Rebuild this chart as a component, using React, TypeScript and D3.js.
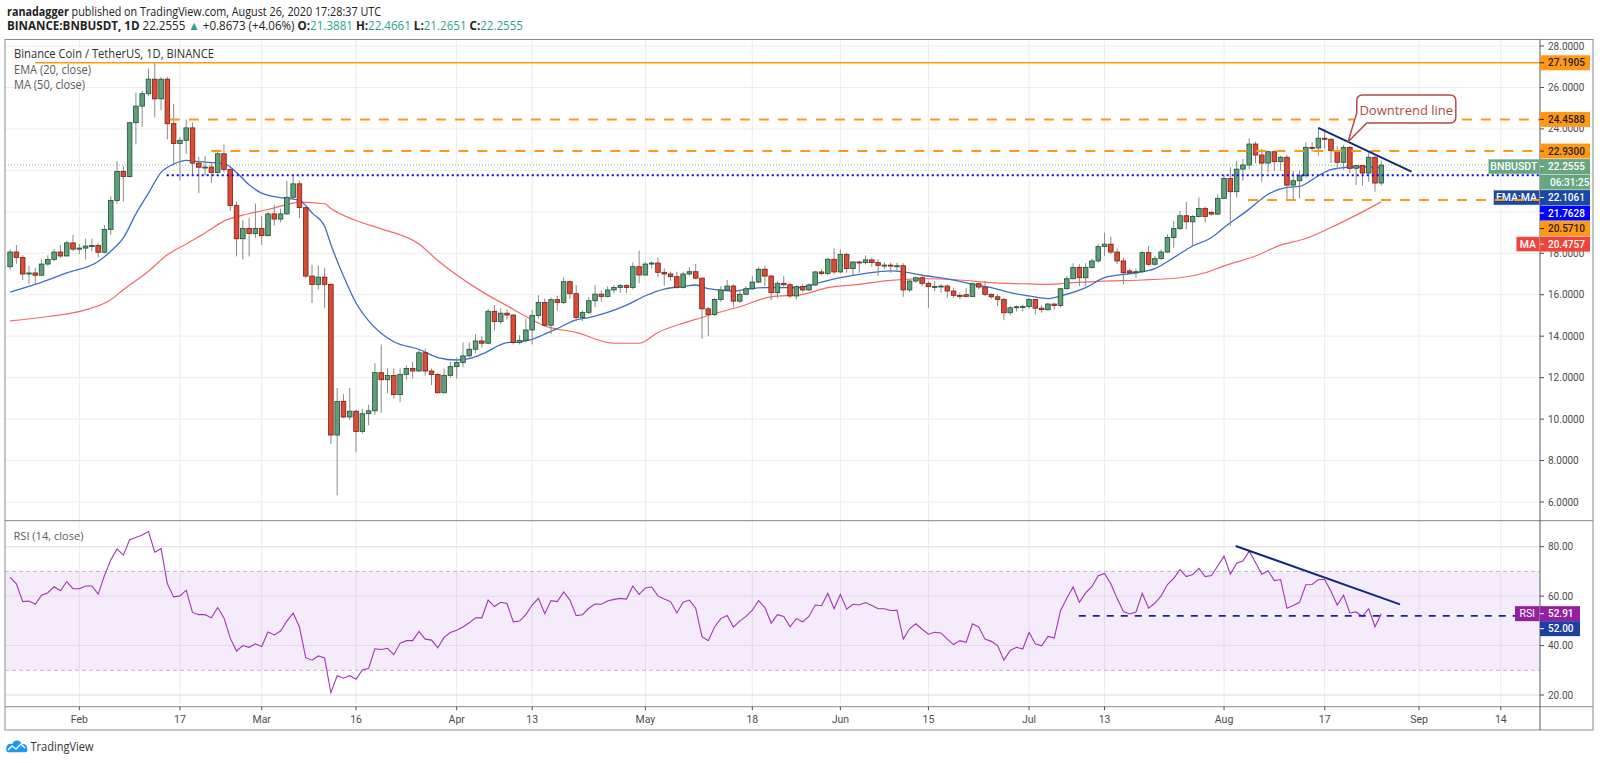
import React from 'react';
import * as d3 from 'd3';

// ---------- DATA ----------
const firstCandleUTC = Date.UTC(2020, 0, 21);
const DAY = 86400000;

const opens = [
17.35,18.06,17.8,17.0,17.05,16.94,17.48,17.7,18.06,17.87,
18.5,18.2,18.25,18.35,18.38,18.05,19.15,20.55,21.95,21.7,
24.3,25.1,25.7,26.4,25.45,26.4,24.25,23.3,23.45,24.05,
22.35,22.15,22.16,21.9,22.8,22.05,20.3,18.7,19.2,18.95,
19.2,18.85,19.9,19.65,19.9,20.7,21.35,20.2,16.9,16.5,
16.85,16.5,9.23,10.85,10.1,10.38,9.4,10.26,10.4,12.24,
11.9,12.1,11.18,12.16,12.44,12.32,13.2,12.32,12.15,11.27,
12.11,12.53,12.73,13.05,13.37,13.77,13.66,15.2,14.7,15.11,
15.02,13.7,13.8,14.3,15.0,15.63,14.53,15.76,15.63,16.63,
16.05,14.9,15.15,15.71,16.03,15.92,16.23,16.35,16.44,16.35,
17.35,16.95,17.48,17.53,17.08,17.0,16.87,16.35,17.0,17.11,
16.8,15.32,15.05,15.77,16.23,16.42,15.69,16.02,16.29,16.61,
17.23,16.9,16.1,16.55,16.48,15.94,16.39,16.23,16.47,17.1,
17.02,17.71,17.1,17.95,17.26,17.58,17.55,17.68,17.55,17.42,
17.43,17.39,17.4,16.23,16.66,16.82,16.55,16.39,16.4,16.42,
16.18,15.97,16.0,15.92,16.53,16.37,16.02,15.9,15.77,15.13,
15.37,15.42,15.43,15.77,15.35,15.28,15.55,15.48,16.29,16.77,
17.31,16.82,17.31,17.63,18.32,18.44,18.06,17.63,17.15,17.06,
17.11,18.03,17.47,17.74,18.06,18.76,19.19,19.81,19.52,19.77,
20.16,19.97,19.89,20.65,21.61,20.97,22.06,22.26,23.27,22.74,
22.35,22.9,22.42,22.63,21.29,21.5,21.74,23.11,23.08,23.55,
23.5,22.95,22.39,23.11,22.1,22.23,21.87,22.63,21.3881
];
const highs = [
18.18,18.4,17.9,17.4,17.3,17.7,17.9,18.2,18.4,18.6,
18.9,18.45,18.7,18.7,18.5,19.35,20.75,22.45,22.2,24.3,
25.75,25.85,26.9,27.2,26.5,26.5,25.2,23.6,24.45,24.3,
22.65,22.7,22.4,23.0,23.25,22.1,20.5,19.6,19.7,20.4,
19.8,20.0,20.35,20.15,21.5,21.75,21.5,20.25,17.45,17.4,
17.3,16.55,11.5,11.2,11.5,10.45,10.5,10.7,12.7,13.6,
12.45,12.45,12.44,12.6,12.76,13.34,13.4,12.44,12.24,12.44,
12.76,12.97,13.7,13.7,14.1,14.0,15.3,15.5,15.34,15.3,
15.06,14.05,14.85,15.27,15.98,15.82,15.87,15.95,16.84,16.68,
16.47,15.23,15.87,16.47,16.2,16.4,16.47,16.52,16.52,17.56,
18.13,17.56,17.6,17.8,17.27,17.11,17.11,17.11,17.32,17.47,
16.82,15.42,15.85,16.42,16.71,16.5,16.26,16.42,16.9,17.35,
17.39,16.98,16.66,16.9,16.58,16.45,16.5,16.55,17.15,17.23,
17.79,18.23,18.19,18.03,17.63,17.63,17.9,17.79,17.71,17.55,
17.55,17.55,17.52,16.74,16.87,16.87,16.66,16.66,16.5,16.5,
16.34,16.1,16.34,16.58,16.58,16.66,16.06,16.02,15.85,15.45,
15.48,15.53,15.85,15.8,15.5,15.62,15.62,16.34,16.9,17.52,
17.47,17.52,17.74,18.44,19.0,18.81,18.23,17.79,17.26,17.23,
18.11,18.35,17.87,18.19,18.92,19.56,20.05,20.48,19.84,20.69,
20.26,20.05,20.85,21.77,22.15,22.47,22.55,23.55,23.39,23.03,
22.95,22.95,22.71,22.74,21.98,21.98,23.35,23.35,24.08,24.0,
23.55,23.19,23.23,23.16,22.26,22.23,22.87,22.71,22.4661
];
const lows = [
17.21,17.5,16.7,16.5,16.5,16.9,17.4,17.6,17.77,17.85,
18.1,17.95,17.7,18.1,17.8,18.0,18.9,20.4,20.5,21.65,
23.25,24.1,25.6,24.55,24.9,23.5,22.3,21.5,22.8,21.8,
20.9,21.75,21.4,21.85,21.9,20.05,17.85,17.7,17.85,18.75,
18.4,18.8,19.35,19.5,19.85,20.6,19.7,16.8,15.6,16.25,
15.35,8.8,6.32,10.05,9.95,8.4,9.3,9.7,10.2,10.3,
11.24,10.98,10.82,11.9,11.95,12.27,12.1,11.64,11.24,11.24,
12.0,11.95,12.5,12.97,13.18,13.45,13.6,14.27,14.6,14.8,
13.6,13.6,13.7,13.6,14.85,14.47,14.1,15.23,15.55,15.8,
14.74,14.74,15.07,15.39,15.66,15.87,16.08,16.08,16.08,16.27,
16.55,16.92,17.27,16.84,16.44,16.68,16.3,16.3,16.92,16.74,
13.87,14.0,14.97,15.65,16.18,15.42,15.61,15.97,16.23,16.55,
16.42,15.74,15.85,16.34,15.85,15.77,16.13,16.18,16.42,16.94,
16.94,16.98,17.03,17.06,16.9,17.06,17.47,17.35,16.9,17.23,
17.06,17.15,15.9,16.13,16.58,16.42,15.37,16.18,16.1,15.85,
15.85,15.77,15.9,15.9,16.26,15.94,15.8,15.45,14.77,15.0,
15.2,15.2,15.32,15.05,15.13,15.21,15.3,15.4,16.26,16.74,
16.42,16.42,17.26,17.55,17.87,17.95,17.47,16.5,16.98,16.82,
17.03,17.39,17.39,17.68,18.03,18.27,19.13,19.16,18.35,19.73,
19.48,19.81,19.84,20.61,19.32,20.69,21.5,22.06,22.35,21.45,
21.9,21.98,21.98,20.61,20.61,20.65,21.66,22.9,22.71,23.03,
22.35,22.06,22.03,21.87,21.29,21.26,21.45,20.97,21.2651
];
const closes = [
18.06,17.8,17.0,17.05,16.94,17.48,17.7,18.06,17.87,18.5,
18.2,18.25,18.35,18.38,18.05,19.15,20.55,21.95,21.7,24.3,
25.1,25.7,26.4,25.45,26.4,24.25,23.3,23.45,24.05,22.35,
22.15,22.16,21.9,22.8,22.05,20.3,18.7,19.2,18.95,19.2,
18.85,19.9,19.65,19.9,20.7,21.35,20.2,16.9,16.5,16.85,
16.5,9.23,10.85,10.1,10.38,9.4,10.26,10.4,12.24,11.9,
12.1,11.18,12.16,12.44,12.32,13.2,12.32,12.15,11.27,12.11,
12.53,12.73,13.05,13.37,13.77,13.66,15.2,14.7,15.11,15.02,
13.7,13.8,14.3,15.0,15.63,14.53,15.76,15.63,16.63,16.05,
14.9,15.15,15.71,16.03,15.92,16.23,16.35,16.44,16.35,17.35,
16.95,17.48,17.53,17.08,17.0,16.87,16.35,17.0,17.11,16.8,
15.32,15.05,15.77,16.23,16.42,15.69,16.02,16.29,16.61,17.23,
16.9,16.1,16.55,16.48,15.94,16.39,16.23,16.47,17.1,17.02,
17.71,17.1,17.95,17.26,17.58,17.55,17.68,17.55,17.42,17.43,
17.39,17.4,16.23,16.66,16.82,16.55,16.39,16.4,16.42,16.18,
15.97,15.94,15.92,16.53,16.37,16.02,15.9,15.77,15.13,15.37,
15.42,15.43,15.77,15.35,15.28,15.55,15.48,16.29,16.77,17.31,
16.82,17.31,17.63,18.32,18.44,18.06,17.63,17.06,17.06,17.11,
18.03,17.47,17.74,18.06,18.76,19.19,19.81,19.52,19.77,20.16,
19.77,19.89,20.65,21.61,20.97,22.06,22.26,23.27,22.74,22.35,
22.9,22.42,22.63,21.29,21.5,21.74,23.11,23.08,23.55,23.5,
22.95,22.39,23.11,22.1,22.23,21.87,22.63,21.3881,22.2555
];
const rsiValues = [
67.6,65.0,57.8,58.0,56.7,60.4,61.4,63.8,62.2,65.9,
63.0,63.0,64.1,64.1,60.8,68.3,74.6,79.1,76.6,82.8,
83.7,84.7,86.1,77.8,79.3,65.0,59.7,60.1,62.4,53.4,
52.5,52.5,51.2,55.4,51.2,43.0,37.8,40.0,39.3,40.7,
39.6,45.5,44.3,45.9,49.9,53.2,47.5,35.1,34.1,35.8,
35.0,20.9,27.8,26.8,27.8,26.4,30.1,30.8,38.7,38.4,
38.9,36.3,40.9,42.0,42.0,45.7,42.6,42.2,39.1,43.3,
45.3,46.2,47.5,49.2,51.2,51.2,58.4,55.8,57.5,57.0,
49.6,49.9,52.5,56.4,59.1,52.9,58.2,57.8,61.7,58.4,
52.1,52.5,55.1,56.8,56.7,58.0,58.7,59.1,58.8,64.1,
60.7,63.3,63.7,60.1,58.8,57.8,53.2,57.5,58.4,55.1,
43.6,42.0,47.5,50.9,52.2,47.5,49.9,51.8,54.3,58.2,
55.4,49.1,52.5,51.8,47.6,50.9,49.6,51.8,56.4,56.1,
61.1,54.9,60.7,54.7,56.7,56.4,57.4,56.2,54.9,54.9,
54.2,54.3,42.6,46.8,48.8,46.6,44.6,45.4,45.1,42.6,
40.4,42.0,41.3,48.8,47.5,42.6,41.7,40.0,34.1,38.0,
39.3,38.6,45.3,40.7,39.9,43.7,43.0,54.1,59.1,63.7,
57.5,61.3,63.9,68.3,69.2,65.0,59.1,53.8,52.8,53.6,
61.1,55.1,57.1,60.1,64.7,67.2,70.7,67.9,68.7,71.2,
67.9,68.3,72.2,76.2,68.9,73.3,74.2,78.2,73.6,68.9,
70.3,66.3,66.7,55.1,56.2,57.5,64.6,64.7,66.7,66.7,
62.0,56.4,60.4,53.2,53.6,51.8,54.9,47.6,52.91
];

const emaDays = [20,24,29,34,36,38,40,42,44,46,48,50,54,56,58,60,63,66,67,68,70,71,73,75,77,81,85,88,91,93,95,99,101,103,105,107,110,112,115,118,121,124,127,129,131,135,137,140,145,149,152,156,160,162,165,170,173,176,179,182,185,187,191,194,199,202,205,208,211,213,217,220,223,225,228,230,233,236,238];
const emaValues = [16.13,16.5,17.05,17.6,18.1,18.74,19.9,20.9,21.9,22.3,22.48,22.42,22.32,21.9,21.3,20.9,20.68,20.55,20.3,19.95,19.3,18.42,16.9,15.6,14.74,13.73,13.37,12.97,12.85,12.92,13.13,13.69,13.73,13.85,14.1,14.37,14.79,14.9,15.15,15.5,15.95,16.27,16.4,16.47,16.29,16.18,16.26,16.34,16.34,16.61,16.82,17.03,17.15,17.1,16.94,16.71,16.5,16.34,16.1,15.94,15.81,15.94,16.34,16.82,17.06,17.26,17.79,18.35,18.76,19.24,20.13,20.85,21.18,21.23,21.74,22.03,22.15,22.17,22.11];
const maDays = [20,26,32,36,38,42,45,48,51,54,57,61,64,66,70,71,75,79,85,88,95,99,102,105,110,116,120,123,127,130,131,136,141,146,150,155,160,165,171,176,181,185,189,194,200,206,210,213,218,222,226,230,234,238];
const maValues = [14.74,14.95,15.27,15.76,16.24,17.13,17.93,18.45,18.98,19.55,19.84,20.11,20.35,20.47,20.39,20.16,19.58,19.18,18.45,17.65,16.15,15.47,14.95,14.5,14.18,13.66,13.66,14.18,14.63,14.9,15.0,15.42,15.9,16.02,16.34,16.5,16.69,16.77,16.71,16.58,16.53,16.5,16.58,16.66,16.71,16.82,17.06,17.39,17.87,18.39,18.71,19.24,19.84,20.48];

const xTickDates = ['2020-02-01','2020-02-17','2020-03-01','2020-03-16','2020-04-01','2020-04-13','2020-05-01','2020-05-18','2020-06-01','2020-06-15','2020-07-01','2020-07-13','2020-08-01','2020-08-17','2020-09-01','2020-09-14'];
const xTickLabels = ['Feb','17','Mar','16','Apr','13','May','18','Jun','15','Jul','13','Aug','17','Sep','14'];
const priceTicks = [6,8,10,12,14,16,18,20,22,24,26,28];
const rsiTicks = [20,40,60,80];

// horizontal drawings: price level and start day
const levelPrices = [27.1905, 24.4588, 22.93, 21.7628, 20.571];
const levelStartDays = [24, 45.4, 52, 44.9, 216.8];
const lastPrice = 22.2555;
const emaLast = 22.1061;
const maLast = 20.4757;
const countdown = '06:31:25';
const rsiLast = 52.91;
const rsiLevel = 52;
const rsiLevelStartDay = 189.9;
const trendDays = [228.0, 242.8];
const trendPrices = [24.05, 21.94];
const rsiTrendDays = [214.85, 240.97];
const rsiTrendValues = [80.3, 56.65];
const calloutDays = [234.1, 249.85, 232.7];
const calloutPrices = [25.64, 24.29, 23.37];

// ---------- CHART ----------
const dayToDate = (d: number) => new Date(Date.UTC(2020, 0, 1) + d * DAY);
const FONT = 'Roboto, "Open Sans", sans-serif';

export default function App() {
  const W = 1600, H = 763;
  const left = 5, right = 1540, frameRight = 1593;
  const top = 39.5, sep = 520.7, axisY = 706.7, bottom = 730;

  const x = d3.scaleUtc()
    .domain([new Date(Date.UTC(2020, 1, 1)), new Date(Date.UTC(2020, 8, 14))])
    .range([79.3, 1500.8]);
  const yP = d3.scaleLinear().domain([6, 28]).range([502, 46]);
  const yR = d3.scaleLinear().domain([20, 80]).range([695, 546.7]);

  const dates = closes.map((_, i) => new Date(firstCandleUTC + i * DAY));
  const xd = (d: number) => x(dayToDate(d));

  const emaPath = d3.line<number>().x((_, i) => xd(emaDays[i])).y(v => yP(v)).curve(d3.curveMonotoneX)(emaValues) || '';
  const maPath = d3.line<number>().x((_, i) => xd(maDays[i])).y(v => yP(v)).curve(d3.curveMonotoneX)(maValues) || '';
  const rsiPath = d3.line<number>().x((_, i) => x(dates[i])).y(v => yR(v))(rsiValues) || '';

  const orange = '#ff9817';
  const upFill = '#5f9f7b', upStroke = '#1d5133';
  const dnFill = '#db4c36', dnStroke = '#7a1d10';
  const lblGreen = '#68a683';
  const navy = '#1b48a1';
  const teal = '#2aa38d';
  const fmt4 = d3.format('.4f');
  const fmt2 = d3.format('.2f');

  type Box = { v: number; text: string; bg: string; fg: string; side?: string; sideW?: number; sideBg?: string };
  const boxes: Box[] = [
    { v: levelPrices[0], text: fmt4(levelPrices[0]), bg: orange, fg: '#1f1f1f' },
    { v: levelPrices[1], text: fmt4(levelPrices[1]), bg: orange, fg: '#1f1f1f' },
    { v: levelPrices[2], text: fmt4(levelPrices[2]), bg: orange, fg: '#1f1f1f' },
    { v: lastPrice, text: fmt4(lastPrice), bg: lblGreen, fg: '#fff', side: 'BNBUSDT', sideW: 51.3, sideBg: lblGreen },
    { v: lastPrice, text: countdown, bg: lblGreen, fg: '#fff' },
    { v: emaLast, text: fmt4(emaLast), bg: navy, fg: '#fff', side: 'EMA:MA', sideW: 46, sideBg: navy },
    { v: levelPrices[3], text: fmt4(levelPrices[3]), bg: '#0000ff', fg: '#fff' },
    { v: levelPrices[4], text: fmt4(levelPrices[4]), bg: orange, fg: '#1f1f1f' },
    { v: maLast, text: fmt4(maLast), bg: '#f0443a', fg: '#fff', side: 'MA', sideW: 23.3, sideBg: '#f0443a' },
  ];
  let prev = -Infinity;
  const boxPos = boxes.map(b => { const p = Math.max(yP(b.v), prev + 15.5); prev = p; return p; });
  const rsiBoxY1 = yR(rsiLast);
  const rsiBoxY2 = Math.max(yR(rsiLevel), rsiBoxY1 + 15);
  // tick labels fully hidden behind a box are not drawn
  const visiblePriceTicks = priceTicks.filter(v => boxPos.every(p => Math.abs(p - yP(v)) >= 8));

  const levelStyles = [
    { stroke: orange, w: 1.5, dash: undefined as string | undefined },
    { stroke: orange, w: 2, dash: '10,9' },
    { stroke: orange, w: 2, dash: '10,9' },
    { stroke: '#0000ff', w: 2, dash: '2,3' },
    { stroke: orange, w: 2, dash: '10,9' },
  ];

  const cL = xd(calloutDays[0]), cR = xd(calloutDays[1]);
  const cT = yP(calloutPrices[0]), cB = yP(calloutPrices[1]);
  const tipX = xd(calloutDays[2]), tipY = yP(calloutPrices[2]);
  const r = 6;
  const calloutPath = `M${cL + r},${cT} L${cR - r},${cT} Q${cR},${cT} ${cR},${cT + r} L${cR},${cB - r} Q${cR},${cB} ${cR - r},${cB} L${cL + 10},${cB} L${tipX},${tipY} L${cL},${cB - 10} L${cL},${cT + r} Q${cL},${cT} ${cL + r},${cT} Z`;

  const gridColor = '#ececec';

  return (
    <div style={{ position: 'absolute', left: 0, top: 0, width: W, height: H, background: '#fff' }}>
      <svg width={W} height={H} style={{ display: 'block', fontFamily: FONT }}>
        <defs>
          <clipPath id="pclip"><rect x={left} y={top} width={right - left} height={sep - top} /></clipPath>
          <clipPath id="rclip"><rect x={left} y={sep} width={right - left} height={axisY - sep} /></clipPath>
        </defs>
        <rect x={0} y={0} width={W} height={H} fill="#fff" />

        {/* header */}
        <g fill="#222" fontFamily='"Open Sans", sans-serif' fontSize={12.5}>
          <text x={7} y={15.5} textLength={374} lengthAdjust="spacingAndGlyphs">
            <tspan fontWeight={700}>ranadagger</tspan> published on TradingView.com, August 26, 2020 17:28:37 UTC
          </text>
          <text x={7} y={29.5} textLength={516} lengthAdjust="spacingAndGlyphs">
            <tspan fontWeight={700}>BINANCE:BNBUSDT, 1D</tspan> 22.2555 <tspan fill={teal}>▲</tspan> +0.8673 (+4.06%) <tspan fontWeight={700}>O:</tspan><tspan fill={teal}>21.3881</tspan> <tspan fontWeight={700}>H:</tspan><tspan fill={teal}>22.4661</tspan> <tspan fontWeight={700}>L:</tspan><tspan fill={teal}>21.2651</tspan> <tspan fontWeight={700}>C:</tspan><tspan fill={teal}>22.2555</tspan>
          </text>
        </g>

        {/* grid */}
        <g stroke={gridColor} strokeWidth={1}>
          {xTickDates.map(t => { const xx = x(new Date(t + 'T00:00:00Z')); return <line key={t} x1={xx} x2={xx} y1={top} y2={axisY} />; })}
          {priceTicks.map(v => <line key={'p' + v} x1={left} x2={right} y1={yP(v)} y2={yP(v)} />)}
        </g>

        {/* RSI band */}
        <rect x={left} y={yR(70)} width={right - left} height={yR(30) - yR(70)} fill="#9c4fd8" fillOpacity={0.11} />
        <g stroke="#e2d8e8" strokeWidth={1}>
          {rsiTicks.map(v => <line key={'r' + v} x1={left} x2={right} y1={yR(v)} y2={yR(v)} />)}
        </g>
        <g stroke="#c4b3cc" strokeWidth={1} strokeDasharray="4,3">
          <line x1={left} x2={right} y1={yR(70)} y2={yR(70)} />
          <line x1={left} x2={right} y1={yR(30)} y2={yR(30)} />
        </g>

        {/* price pane */}
        <g clipPath="url(#pclip)">
          <line x1={left} x2={right} y1={yP(lastPrice)} y2={yP(lastPrice)} stroke="#7fb394" strokeWidth={1} strokeDasharray="1,2" />
          <path d={maPath} fill="none" stroke="#f56a66" strokeWidth={1.2} />
          <path d={emaPath} fill="none" stroke="#3f6cc6" strokeWidth={1.3} />
          {dates.map((dt, i) => {
            const cx = x(dt);
            const o = opens[i], c = closes[i];
            const up = c >= o;
            const yt = yP(Math.max(o, c)), yb = yP(Math.min(o, c));
            return (
              <g key={i}>
                <line x1={cx} x2={cx} y1={yP(highs[i])} y2={yP(lows[i])} stroke="#8a8a8a" strokeWidth={1} />
                <rect x={cx - 2.3} y={yt} width={4.6} height={Math.max(1, yb - yt)} fill={up ? upFill : dnFill} stroke={up ? upStroke : dnStroke} strokeWidth={0.8} />
              </g>
            );
          })}
        </g>

        {/* in-pane labels next to price axis */}
        {boxes.map((b, i) => b.side ? (
          <g key={'s' + i}>
            <rect x={right - (b.sideW as number) - 0.5} y={boxPos[i] - 7.5} width={b.sideW} height={15} fill={b.sideBg} stroke="#ffffff" strokeOpacity={0.5} />
            <text x={right - (b.sideW as number) / 2 - 0.5} y={boxPos[i]} dominantBaseline="central" textAnchor="middle" fill="#fff" fontSize={10.5} fontWeight={500}>{b.side}</text>
          </g>
        ) : null)}

        {/* drawings on price pane */}
        <g clipPath="url(#pclip)">
          {levelPrices.map((v, i) => (
            <line key={'lv' + i} x1={xd(levelStartDays[i])} x2={right} y1={yP(v)} y2={yP(v)}
              stroke={levelStyles[i].stroke} strokeWidth={levelStyles[i].w} strokeDasharray={levelStyles[i].dash} />
          ))}
          <line x1={xd(trendDays[0])} y1={yP(trendPrices[0])} x2={xd(trendDays[1])} y2={yP(trendPrices[1])} stroke="#102b7c" strokeWidth={2} />
          <path d={calloutPath} fill="#fff" stroke="#b24a44" strokeWidth={1.5} />
          <text x={(cL + cR) / 2} y={(cT + cB) / 2 + 1} dominantBaseline="central" textAnchor="middle" fill="#b24a44" fontSize={13} fontFamily='"Open Sans", sans-serif'>Downtrend line</text>
        </g>

        {/* RSI pane */}
        <g clipPath="url(#rclip)">
          <path d={rsiPath} fill="none" stroke="#a335b6" strokeWidth={1.1} />
          <line x1={xd(rsiLevelStartDay)} x2={right} y1={yR(rsiLevel)} y2={yR(rsiLevel)} stroke="#17259a" strokeWidth={1.6} strokeDasharray="7,7" />
          <line x1={xd(rsiTrendDays[0])} y1={yR(rsiTrendValues[0])} x2={xd(rsiTrendDays[1])} y2={yR(rsiTrendValues[1])} stroke="#102b7c" strokeWidth={2} />
        </g>
        <rect x={1515} y={rsiBoxY1 - 7.5} width={24.5} height={15} fill="#93219f" />
        <text x={1527.2} y={rsiBoxY1} dominantBaseline="central" textAnchor="middle" fill="#fff" fontSize={10.5}>RSI</text>

        {/* pane titles */}
        <text x={14} y={57.5} fill="#2f2f2f" fontSize={13} fontFamily='"Open Sans", sans-serif' textLength={200} lengthAdjust="spacingAndGlyphs">Binance Coin / TetherUS, 1D, BINANCE</text>
        <text x={14} y={74} fill="#5a5a5a" fontSize={12} fontFamily='"Open Sans", sans-serif' textLength={77} lengthAdjust="spacingAndGlyphs">EMA (20, close)</text>
        <text x={14} y={89} fill="#5a5a5a" fontSize={12} fontFamily='"Open Sans", sans-serif' textLength={71} lengthAdjust="spacingAndGlyphs">MA (50, close)</text>
        <text x={13.5} y={540} fill="#5a5a5a" fontSize={11.5} fontFamily='"Open Sans", sans-serif' textLength={70} lengthAdjust="spacingAndGlyphs">RSI (14, close)</text>

        {/* frame & separators */}
        <rect x={left} y={top} width={frameRight - left} height={bottom - top} fill="none" stroke="#8c8c8c" strokeWidth={1} />
        <line x1={left} x2={frameRight} y1={sep} y2={sep} stroke="#9a9a9a" strokeWidth={1.2} />
        <line x1={left} x2={frameRight} y1={axisY} y2={axisY} stroke="#8c8c8c" strokeWidth={1} />
        <line x1={right} x2={right} y1={top} y2={bottom} stroke="#5a5a5a" strokeWidth={1} />

        {/* price axis ticks */}
        <g fill="#4c4c4c" fontSize={10}>
          {priceTicks.map(v => (
            <line key={'ptl' + v} x1={right} x2={right + 4} y1={yP(v)} y2={yP(v)} stroke="#4c4c4c" />
          ))}
          {visiblePriceTicks.map(v => (
            <text key={'pt' + v} x={1548} y={yP(v)} dominantBaseline="central">{fmt4(v)}</text>
          ))}
          {rsiTicks.map(v => (
            <g key={'rt' + v}>
              <line x1={right} x2={right + 4} y1={yR(v)} y2={yR(v)} stroke="#4c4c4c" />
              <text x={1548} y={yR(v)} dominantBaseline="central">{fmt2(v)}</text>
            </g>
          ))}
        </g>

        {/* price axis boxes */}
        {boxes.map((b, i) => (
          <g key={'b' + i}>
            <rect x={right} y={boxPos[i] - 7.5} width={50} height={15} fill={b.bg} />
            {i !== 4 && <line x1={right} x2={right + 4} y1={boxPos[i]} y2={boxPos[i]} stroke={b.fg} />}
            <text x={i === 4 ? 1550 : 1548} y={boxPos[i]} dominantBaseline="central" fill={b.fg} fontSize={10} fontWeight={500}>{b.text}</text>
          </g>
        ))}
        <rect x={right} y={rsiBoxY1 - 7.5} width={40} height={15} fill="#93219f" />
        <line x1={right} x2={right + 4} y1={rsiBoxY1} y2={rsiBoxY1} stroke="#fff" />
        <text x={1548} y={rsiBoxY1} dominantBaseline="central" fill="#fff" fontSize={10} fontWeight={500}>{fmt2(rsiLast)}</text>
        <rect x={right} y={rsiBoxY2 - 7.5} width={40} height={15} fill="#1d3f9e" />
        <line x1={right} x2={right + 4} y1={rsiBoxY2} y2={rsiBoxY2} stroke="#fff" />
        <text x={1548} y={rsiBoxY2} dominantBaseline="central" fill="#fff" fontSize={10} fontWeight={500}>{fmt2(rsiLevel)}</text>

        {/* time axis */}
        <g fill="#4c4c4c" fontSize={10.5} textAnchor="middle">
          {xTickDates.map((t, i) => {
            const xx = x(new Date(t + 'T00:00:00Z'));
            return (
              <g key={'xt' + t}>
                <line x1={xx} x2={xx} y1={axisY} y2={axisY + 3.5} stroke="#4c4c4c" />
                <text x={xx} y={723}>{xTickLabels[i]}</text>
              </g>
            );
          })}
        </g>

        {/* TradingView logo */}
        <g>
          <circle cx={10.5} cy={748} r={4.2} fill="#2196f3" />
          <circle cx={17} cy={745.5} r={5} fill="#2196f3" />
          <circle cx={23} cy={748} r={4} fill="#2196f3" />
          <rect x={6.3} y={747} width={21} height={5.2} rx={2} fill="#2196f3" />
          <polyline points="8,750 12,746 16,749 21,744 25,748" fill="none" stroke="#fff" strokeWidth={1.3} strokeLinejoin="round" />
          <text x={30.5} y={751} fill="#333" fontSize={12.5} fontFamily='"Open Sans", sans-serif' textLength={63} lengthAdjust="spacingAndGlyphs">TradingView</text>
        </g>
      </svg>
    </div>
  );
}
